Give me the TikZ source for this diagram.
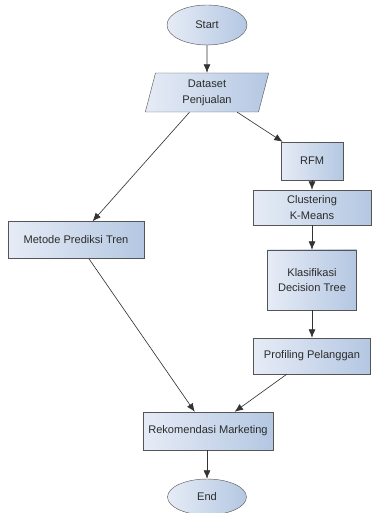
\documentclass[tikz,border=0pt]{standalone}
\usepackage{fontspec}
\setmainfont{Liberation Sans}
\usetikzlibrary{arrows.meta, positioning, shapes.geometric}
\definecolor{BoxLeft}{HTML}{E6ECF6}
\definecolor{BoxRight}{HTML}{B4C7E2}
\definecolor{EdgeGray}{HTML}{555555}
\definecolor{LineDark}{HTML}{333333}
\definecolor{TextGray}{HTML}{2B2B2B}
\tikzset{
  flowbox/.style={draw=EdgeGray, left color=BoxLeft, right color=BoxRight, align=center, inner sep=2pt, text=TextGray, font=\fontsize{10.5}{15}\selectfont},
  termbox/.style={flowbox, ellipse},
  databox/.style={flowbox, trapezium, trapezium left angle=80, trapezium right angle=100, trapezium stretches=true},
  arrow/.style={-{Latex[length=2.8mm, width=2.3mm]}, draw=LineDark, semithick}
}

\begin{document}
\begin{tikzpicture}
\useasboundingbox (0,0) rectangle (12.767,-17.1);
\node[termbox, minimum width=2.667cm, minimum height=1.333cm] (start) at (6.9,-0.833) {Start};
\node[databox, minimum width=4.133cm, minimum height=1.3cm] (data) at (6.9,-3.083) {Dataset\\Penjualan};
\node[flowbox, minimum width=4.533cm, minimum height=1.233cm] (tren) at (2.533,-8.0) {Metode Prediksi Tren};
\node[flowbox, minimum width=2.067cm, minimum height=1.267cm] (rfm) at (10.4,-5.367) {RFM};
\node[flowbox, minimum width=3.933cm, minimum height=1.167cm] (kmeans) at (10.4,-6.917) {Clustering\\K-Means};
\node[flowbox, minimum width=2.967cm, minimum height=2.0cm] (dtree) at (10.4,-9.333) {Klasifikasi\\Decision Tree};
\node[flowbox, minimum width=3.9cm, minimum height=1.2cm] (profil) at (10.4,-11.867) {Profiling Pelanggan};
\node[flowbox, minimum width=4.333cm, minimum height=1.267cm] (rekom) at (6.933,-14.367) {Rekomendasi Marketing};
\node[termbox, minimum width=2.633cm, minimum height=1.2cm] (end) at (6.9,-16.567) {End};
\draw[arrow] (start) -- (data);
\draw[arrow] (data) -- (tren);
\draw[arrow] (data) -- (rfm);
\draw[arrow] (rfm) -- (kmeans);
\draw[arrow] (kmeans) -- (dtree);
\draw[arrow] (dtree) -- (profil);
\draw[arrow] (tren) -- (rekom);
\draw[arrow] (profil) -- (rekom);
\draw[arrow] (rekom.south -| end) -- (end);
\end{tikzpicture}
\end{document}
